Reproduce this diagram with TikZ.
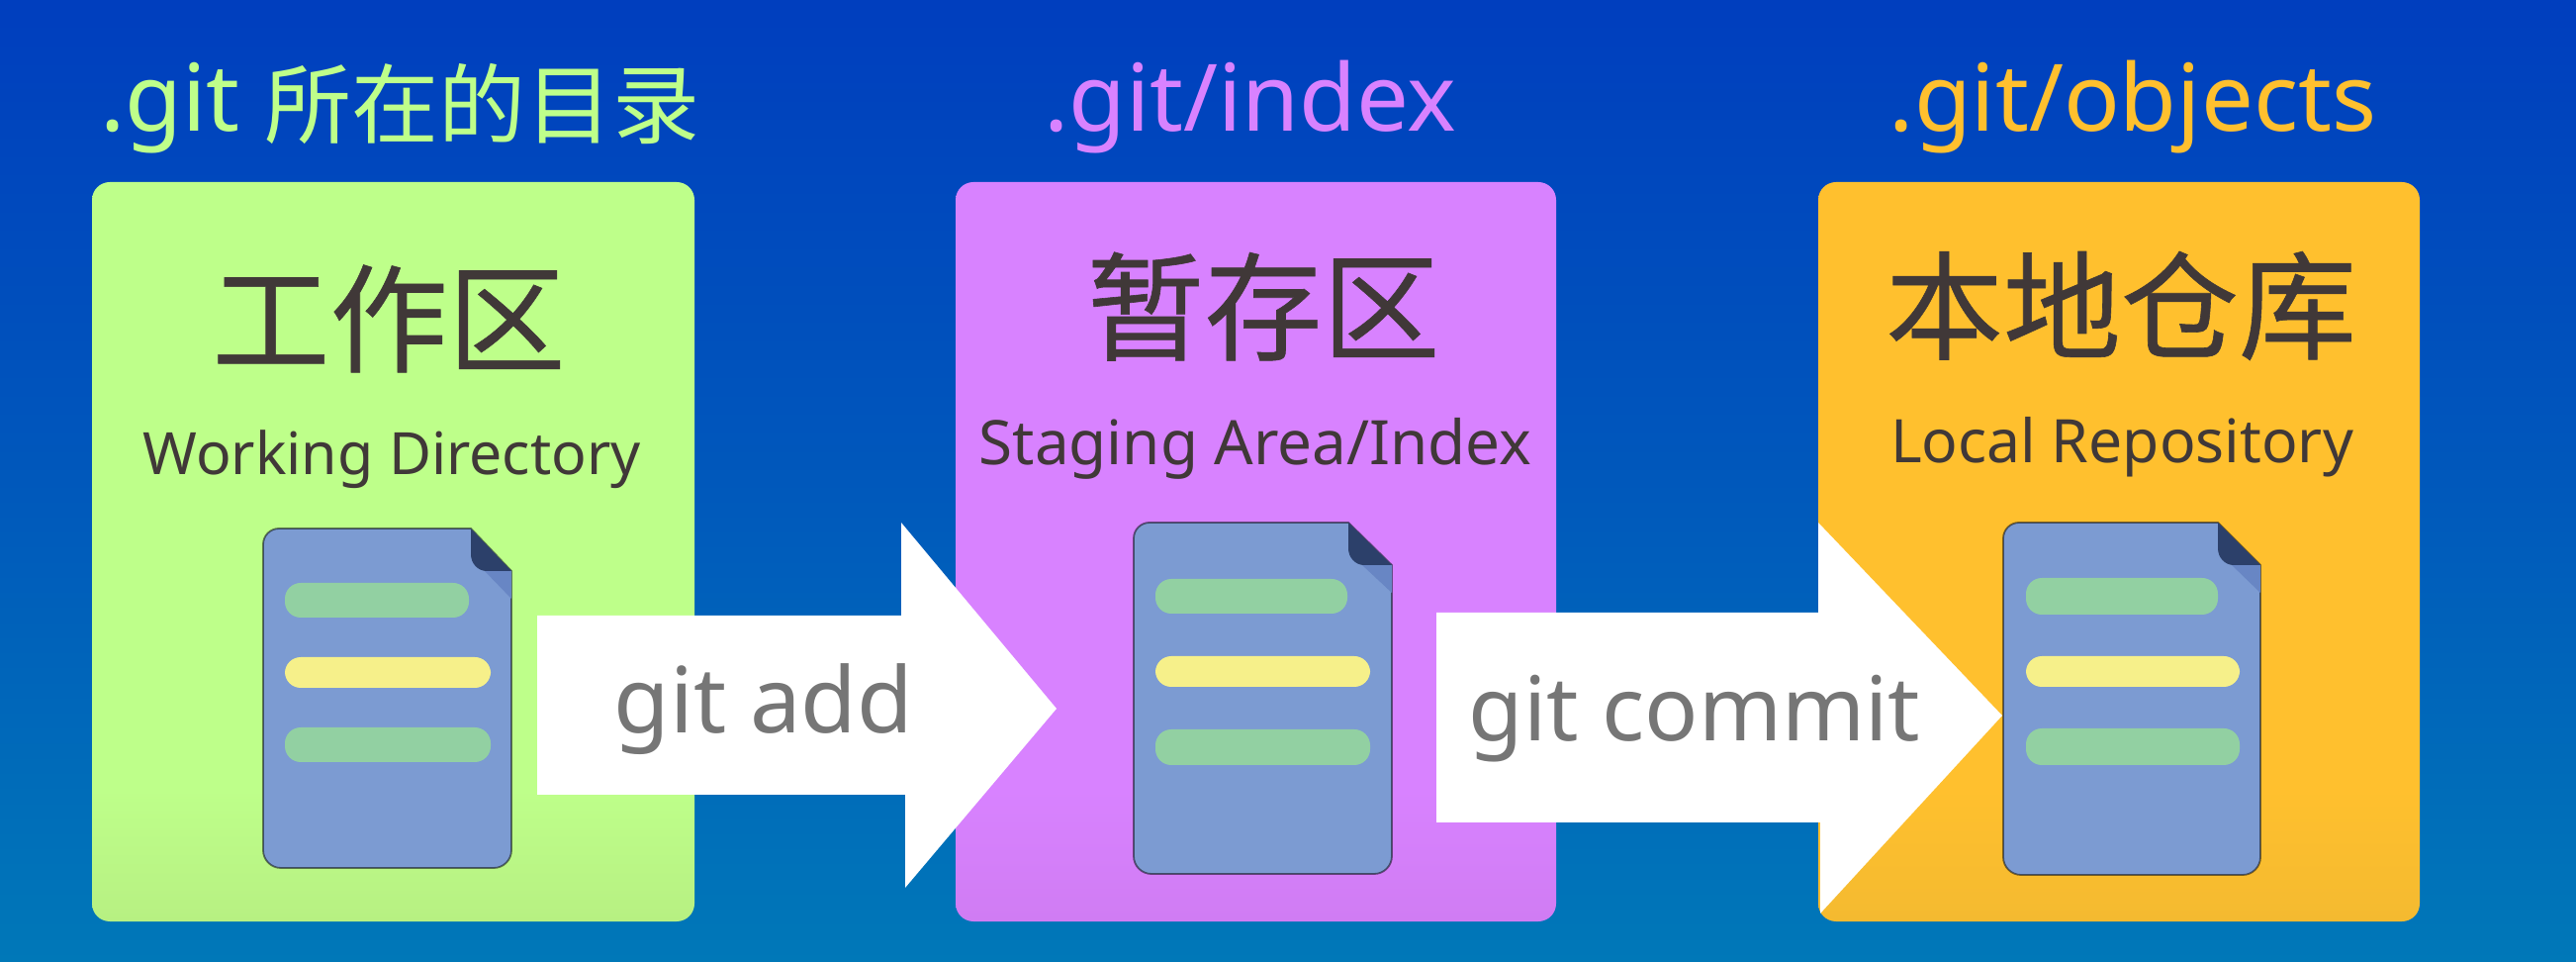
\documentclass[tikz,border=0pt]{standalone}
\usepackage{fontspec}
\setmainfont{Noto Sans}
\newfontfamily\cjk{Noto Sans CJK SC}
\newfontfamily\cjkheavy[FakeBold=0.5]{Noto Sans CJK SC}
\definecolor{bgtop}{RGB}{0,62,190}
\definecolor{bgbot}{RGB}{0,120,184}
\definecolor{grn}{RGB}{190,255,138}
\definecolor{grnb}{RGB}{183,240,130}
\definecolor{pur}{RGB}{216,130,255}
\definecolor{purb}{RGB}{208,124,243}
\definecolor{org}{RGB}{255,192,46}
\definecolor{orgb}{RGB}{244,186,48}
\definecolor{ink}{RGB}{64,56,56}
\definecolor{docfill}{RGB}{124,155,210}
\definecolor{foldd}{RGB}{44,64,106}
\definecolor{foldl}{RGB}{104,134,196}
\definecolor{lgreen}{RGB}{146,208,162}
\definecolor{lyellow}{RGB}{246,240,138}
\definecolor{gtxt}{RGB}{118,118,118}
\pgfdeclareverticalshading{grnshade}{100bp}{color(0bp)=(grnb); color(25bp)=(grnb); color(34bp)=(grn); color(100bp)=(grn)}
\pgfdeclareverticalshading{purshade}{100bp}{color(0bp)=(purb); color(25bp)=(purb); color(34bp)=(pur); color(100bp)=(pur)}
\pgfdeclareverticalshading{orgshade}{100bp}{color(0bp)=(orgb); color(25bp)=(orgb); color(34bp)=(org); color(100bp)=(org)}
\tikzset{
  x=0.5pt,y=-0.5pt,
  areabox/.style={rounded corners=9pt,draw=none},
  title/.style={anchor=base,inner sep=0pt,text=ink,font=\fontsize{59.5}{60}\selectfont\cjkheavy},
  sub/.style={anchor=base,inner sep=0pt,text=ink},
  head/.style={anchor=base,inner sep=0pt,font=\fontsize{47}{47}\selectfont},
  cmd/.style={anchor=base,inner sep=0pt,text=gtxt},
  arrowshape/.style={fill=white,draw=none},
  docbody/.style={fill=docfill,draw=black,draw opacity=0.5,line width=0.9pt,line join=round},
  bar/.style={rounded corners=8pt,draw=none}
}
\newcommand{\docicon}[5]{% left right top bottom foldx
  \pgfmathsetmacro{\fy}{#3+43}
  \draw[docbody] (#5,#3) -- (#1+16,#3) to[out=180,in=90] (#1,#3+16) -- (#1,#4-18) to[out=-90,in=180] (#1+18,#4) -- (#2-18,#4) to[out=0,in=-90] (#2,#4-18) -- (#2,\fy) -- cycle;
  \fill[foldl] (#5+14,\fy) -- (#2,\fy) -- (#2,\fy+28) -- cycle;
  \fill[foldd] (#5,#3) -- (#2,\fy) -- (#5+16,\fy) to[out=180,in=-90] (#5,\fy-17) -- cycle;
}
\begin{document}
\begin{tikzpicture}
\useasboundingbox (0,0) rectangle (2604,972);
\shade[top color=bgtop,bottom color=bgbot,middle color=bgtop!55!bgbot] (0,0) rectangle (2604,972);
% boxes
\path[areabox,shading=grnshade] (93,184) rectangle (702,931);
\path[areabox,shading=purshade] (966,184) rectangle (1573,931);
\path[areabox,shading=orgshade] (1838,184) rectangle (2446,931);
% headings
\node[head,text=grn,anchor=base west] (heada) at (101,133) {.git {\fontsize{44}{44}\selectfont\cjk\raisebox{-3pt}{所在的目录}}};
\node[head,text=pur] (headb) at (1264,133) {.git/index};
\node[head,text=org] (headc) at (2156,133) {.git/objects};
% titles
\node[title] (ta) at (393,367) {工作区};
\node[title] (tb) at (1277,355) {暂存区};
\node[title] (tc) at (2144,354) {本地仓库};
\node[sub,font=\fontsize{29.5}{30}\selectfont] (sa) at (396,480) {Working Directory};
\node[sub,font=\fontsize{31}{31}\selectfont] (sb) at (1269,470) {Staging Area/Index};
\node[sub,font=\fontsize{30.3}{31}\selectfont] (sc) at (2145,468) {Local Repository};
% documents
\docicon{266}{517}{534}{877}{476}
\fill[bar,fill=lgreen] (288,589) rectangle (474,624);
\fill[bar,fill=lyellow] (288,664) rectangle (496,695);
\fill[bar,fill=lgreen] (288,735) rectangle (496,770);
\docicon{1146}{1407}{528}{883}{1363}
\fill[bar,fill=lgreen] (1168,585) rectangle (1362,620);
\fill[bar,fill=lyellow] (1168,663) rectangle (1385,694);
\fill[bar,fill=lgreen] (1168,737) rectangle (1385,773);
\docicon{2025}{2285}{528}{884}{2242}
\fill[bar,fill=lgreen] (2048,584) rectangle (2242,621);
\fill[bar,fill=lyellow] (2048,663) rectangle (2264,694);
\fill[bar,fill=lgreen] (2048,736) rectangle (2264,773);
% arrows
\fill[arrowshape] (543,622) -- (911,622) -- (911,528) -- (1068,716) -- (915,897) -- (915,803) -- (543,803) -- cycle;
\fill[arrowshape] (1452,619) -- (1838,619) -- (1838,528) -- (2024,723) -- (1840,923) -- (1840,831) -- (1452,831) -- cycle;
\node[cmd,font=\fontsize{46}{46}\selectfont] (adda) at (772,741) {git add};
\node[cmd,font=\fontsize{45}{45}\selectfont] (commit) at (1713,749) {git commit};
\end{tikzpicture}
\end{document}
